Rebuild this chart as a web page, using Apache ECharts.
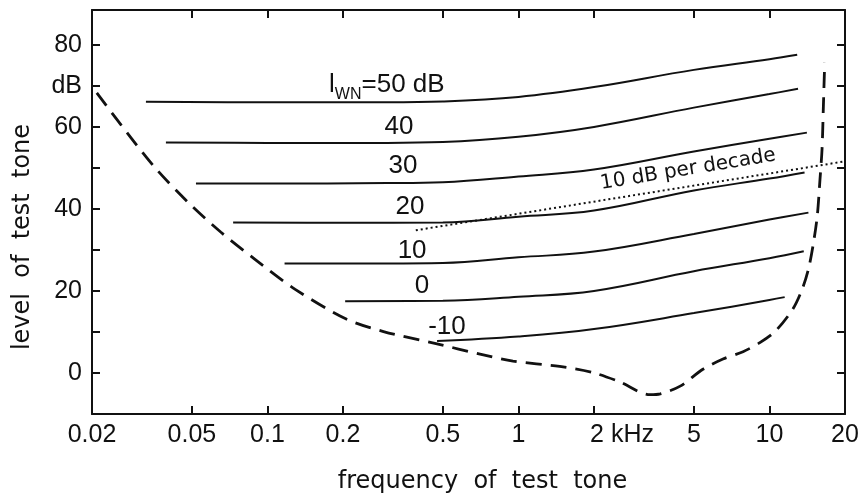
<!DOCTYPE html>
<html><head><meta charset="utf-8">
<script src="https://cdn.jsdelivr.net/npm/echarts@6/dist/echarts.min.js"></script>
<style>html,body{margin:0;padding:0;background:#fff}#c{width:862px;height:499px}</style>
</head><body><div id="c"></div>
<script>
// ---- data (frequency in kHz, level in dB) ----
const tickFreqs = [0.02, 0.05, 0.1, 0.2, 0.5, 1, 2, 5, 10, 20];
const tickLabels = ['0.02', '0.05', '0.1', '0.2', '0.5', '1', '2 kHz', '5', '10', '20'];
const yTickValues = [-10, 0, 10, 20, 30, 40, 50, 60, 70, 80];
const yLabelValues = [0, 20, 40, 60, 70, 80];
const yLabelTexts = ['0', '20', '40', '60', 'dB', '80'];

const curve50 = [[0.0328,66.1],[0.1,66.0],[0.3,66.0],[0.5,66.2],[1,67.3],[2,69.7],[5,73.9],[10,76.5],[12.9,77.6]];
const curve40 = [[0.0394,56.2],[0.1,56.1],[0.3,56.1],[0.5,56.3],[1,57.6],[2,60.0],[5,64.7],[10,68.0],[13.0,69.3]];
const curve30 = [[0.0519,46.2],[0.1,46.2],[0.3,46.3],[0.5,46.5],[1,47.9],[2,49.6],[5,54.0],[10,57.1],[14.1,58.6]];
const curve20 = [[0.073,36.7],[0.2,36.6],[0.5,36.7],[1,38.1],[2,39.6],[5,44.5],[10,47.4],[13.8,48.9]];
const curve10 = [[0.117,26.7],[0.3,26.7],[0.5,26.8],[1,28.2],[2,29.6],[5,33.9],[10,37.4],[14.3,39.1]];
const curve0  = [[0.204,17.5],[0.5,17.6],[1,18.6],[2,20.0],[5,24.8],[10,28.0],[13.7,29.7]];
const curveM10 = [[0.474,7.8],[1,8.9],[2,10.7],[5,14.6],[10,17.8],[11.5,18.5]];
const threshold = [[0.0209,68.3],[0.0261,60.5],[0.0356,50.1],[0.0483,41.6],[0.0653,34.3],[0.0892,27.7],[0.129,20.4],[0.207,13.1],[0.29,10.1],[0.474,7.1],[0.703,4.6],[0.951,2.9],[1.46,1.6],[1.98,0.1],[2.54,-2.2],[3.34,-5.3],[3.67,-5.1],[4.41,-3.2],[5.43,0.9],[6.53,3.4],[7.85,5.2],[9.16,7.4],[10.6,10.3],[12.4,15.6],[13.5,20.4],[14.3,25.3],[14.9,30.9],[15.5,38.2],[15.9,47.2],[16.2,54.5],[16.4,64.9],[16.6,75.6]];
const slope10 = [[0.39,34.8],[20,51.6]];

// annotation anchors (kHz, dB)
const curveLabelTexts = ['{a|l}{s|WN}{a|=50 dB}', '40', '30', '20', '10', '0', '-10'];
const curveLabelAt = [[0.299,70.3],[0.334,60.0],[0.347,50.6],[0.37,40.6],[0.377,29.9],[0.413,21.2],[0.519,11.2]];
const slopeLabelText = '10 dB per decade';
const slopeLabelAt = [4.74, 49.6];

const L = Math.log10;
const toXY = arr => arr.map(d => [L(d[0]), d[1]]);
const INK = '#111';
const NUMFONT = 'Liberation Sans';
const TXTFONT = 'DejaVu Sans';

const chart = echarts.init(document.getElementById('c'), null, {renderer: 'canvas'});
const tickPos = tickFreqs.map(L);
function xFmt(v) {
  let best = 0, bd = 1e9;
  tickPos.forEach((p, i) => { const d = Math.abs(p - v); if (d < bd) { bd = d; best = i; } });
  const t = tickLabels[best];
  return t.indexOf('kHz') >= 0 ? '{k|' + t + '}' : t;
}
function yFmt(v) {
  const i = yLabelValues.indexOf(Math.round(v));
  return i >= 0 ? yLabelTexts[i] : '';
}

const axisLine = {show: true, onZero: false, lineStyle: {color: INK, width: 2}};
const axisTickX = {show: true, inside: true, length: 8, customValues: tickPos, lineStyle: {color: INK, width: 2}};
const axisTickY = {show: true, inside: true, length: 8, customValues: yTickValues, lineStyle: {color: INK, width: 2}};

const solid = (name, data) => ({
  name, type: 'line', data: toXY(data), showSymbol: false, smooth: 0.4,
  lineStyle: {color: INK, width: 2}, silent: true, z: 3
});

const labelItems = curveLabelTexts.map((t, i) => ({
  coord: [L(curveLabelAt[i][0]), curveLabelAt[i][1]],
  label: {formatter: t}
}));
labelItems.push({
  coord: [L(slopeLabelAt[0]), slopeLabelAt[1]],
  label: {formatter: slopeLabelText, rotate: 9.3, fontSize: 20, fontFamily: TXTFONT}
});

chart.setOption({
  animation: false,
  backgroundColor: '#fff',
  grid: {left: 92, right: 17, top: 10, bottom: 84, containLabel: false},
  xAxis: [{
    type: 'value', position: 'bottom', min: L(0.02), max: L(20),
    axisLine, axisTick: axisTickX, splitLine: {show: false},
    axisLabel: {
      customValues: tickPos, formatter: xFmt, color: INK, fontSize: 25, fontFamily: NUMFONT, margin: 9,
      hideOverlap: false, showMinLabel: true, showMaxLabel: true,
      rich: {k: {fontSize: 25, fontFamily: NUMFONT, color: INK, padding: [0, 0, 0, 56]}}
    },
    name: 'frequency  of  test  tone', nameLocation: 'middle', nameGap: 56,
    nameTextStyle: {color: INK, fontSize: 24, fontFamily: TXTFONT, padding: [0, 0, 0, 28]}
  }, {
    type: 'value', position: 'top', min: L(0.02), max: L(20),
    axisLine, axisTick: axisTickX, splitLine: {show: false}, axisLabel: {show: false}
  }],
  yAxis: [{
    type: 'value', position: 'left', min: -10, max: 88.5,
    axisLine, axisTick: axisTickY, splitLine: {show: false},
    axisLabel: {customValues: yLabelValues, formatter: yFmt, color: INK, fontSize: 25, fontFamily: NUMFONT, margin: 10},
    name: 'level  of  test  tone', nameLocation: 'middle', nameGap: 57,
    nameTextStyle: {color: INK, fontSize: 24, fontFamily: TXTFONT, padding: [0, 50, 0, 0]}
  }, {
    type: 'value', position: 'right', min: -10, max: 88.5,
    axisLine, axisTick: axisTickY, splitLine: {show: false}, axisLabel: {show: false}
  }],
  series: [
    solid('50 dB', curve50),
    solid('40 dB', curve40),
    solid('30 dB', curve30),
    solid('20 dB', curve20),
    solid('10 dB', curve10),
    solid('0 dB', curve0),
    solid('-10 dB', curveM10),
    {
      name: 'threshold in quiet', type: 'line', data: toXY(threshold), showSymbol: false,
      smooth: 0.3, silent: true, z: 4,
      lineStyle: {color: INK, width: 2.8, type: [16, 9]}
    },
    {
      name: '10 dB per decade', type: 'line', data: toXY(slope10), showSymbol: false, silent: true, z: 2,
      lineStyle: {color: INK, width: 2, type: [2, 3]}
    },
    {
      name: 'labels', type: 'scatter', data: [], silent: true,
      markPoint: {
        symbol: 'rect', symbolSize: 1, itemStyle: {color: 'rgba(0,0,0,0)'}, silent: true,
        label: {
          show: true, position: 'inside', color: INK, fontSize: 26, fontFamily: NUMFONT,
          rich: {
            a: {fontSize: 26, fontFamily: NUMFONT, color: INK, lineHeight: 36},
            s: {fontSize: 16, fontFamily: NUMFONT, color: INK, lineHeight: 36, verticalAlign: 'bottom'}
          }
        },
        data: labelItems
      }
    }
  ]
});
</script>
</body></html>
